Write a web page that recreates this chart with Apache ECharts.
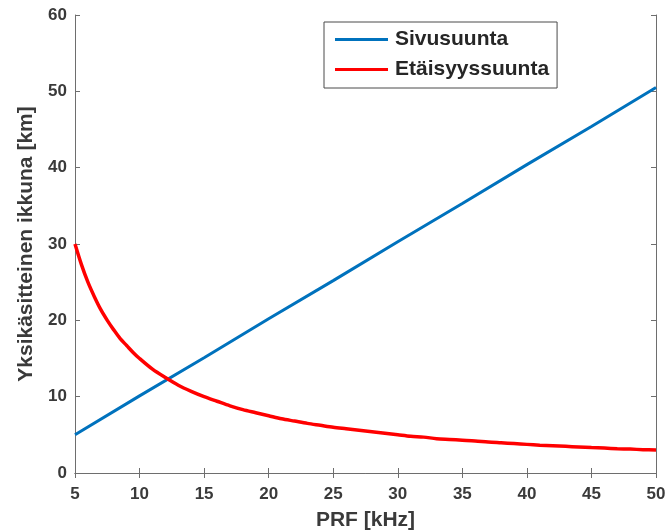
<!DOCTYPE html>
<html>
<head>
<meta charset="utf-8">
<script src="https://cdn.jsdelivr.net/npm/echarts@6/dist/echarts.min.js"></script>
<style>
  html, body { margin: 0; padding: 0; background: #fff; }
  #chart { width: 671px; height: 532px; }
</style>
</head>
<body>
<div id="chart"></div>
<script>
// PRF [kHz]
var prfBlue = [5, 10, 15, 20, 25, 30, 35, 40, 45, 50];
var sivusuunta = [5.0, 10.1, 15.1, 20.2, 25.2, 30.3, 35.3, 40.4, 45.4, 50.5];

var prfRed = [5, 5.5, 6, 6.5, 7, 7.5, 8, 8.5, 9, 9.5, 10, 11, 12, 13, 14, 15, 16, 17, 18, 19,
    20, 21, 22, 23, 24, 25, 26, 27, 28, 29, 30, 31, 32, 33, 34, 35, 36, 37, 38, 39,
    40, 41, 42, 43, 44, 45, 46, 47, 48, 49, 50];
var etaisyyssuunta = [30.0, 27.3, 25.0, 23.1, 21.4, 20.0, 18.75, 17.6, 16.7, 15.8, 15.0, 13.6, 12.5, 11.5, 10.7, 10.0, 9.4, 8.8, 8.3, 7.9,
    7.5, 7.1, 6.8, 6.5, 6.25, 6.0, 5.8, 5.6, 5.4, 5.2, 5.0, 4.8, 4.7, 4.5, 4.4, 4.3, 4.2, 4.05, 3.95, 3.85,
    3.75, 3.65, 3.57, 3.49, 3.41, 3.33, 3.26, 3.19, 3.13, 3.06, 3.0];

var xTicks = [5, 50, 5];   // min, max, interval
var yTicks = [0, 60, 10];

var zip = function (xs, ys) {
    return xs.map(function (x, i) { return [x, ys[i]]; });
};

var axisColor = '#6e6e6e';
var labelStyle = { color: '#3a3a3a', fontSize: 17, fontWeight: 'bold', fontFamily: 'Liberation Sans' };
var nameStyle = { color: '#3a3a3a', fontSize: 21, fontWeight: 'bold', fontFamily: 'Liberation Sans' };

var chart = echarts.init(document.getElementById('chart'));
chart.setOption({
    animation: false,
    backgroundColor: '#fff',
    grid: { left: 75, right: 15, top: 15, bottom: 59, containLabel: false, outerBoundsMode: 'none' },
    legend: {
        orient: 'vertical',
        left: 324,
        top: 22,
        padding: [7, 8, 8, 11],
        itemGap: 9,
        itemWidth: 53,
        itemHeight: 3,
        icon: 'rect',
        borderColor: '#4a4a4a',
        borderWidth: 1,
        backgroundColor: '#fff',
        textStyle: { color: '#262626', fontSize: 21, fontWeight: 'bold', fontFamily: 'Liberation Sans', padding: [0, 0, 0, 2] },
        data: ['Sivusuunta', 'Etäisyyssuunta']
    },
    xAxis: [{
        type: 'value',
        min: xTicks[0], max: xTicks[1], interval: xTicks[2],
        name: 'PRF [kHz]',
        nameLocation: 'middle',
        nameGap: 37,
        nameTextStyle: nameStyle,
        axisLine: { lineStyle: { color: axisColor, width: 1 } },
        axisTick: { inside: true, length: 5, lineStyle: { color: axisColor } },
        axisLabel: Object.assign({ margin: 13 }, labelStyle),
        splitLine: { show: false }
    }, {
        type: 'value', position: 'top',
        min: xTicks[0], max: xTicks[1], interval: xTicks[2],
        axisLine: { show: true, lineStyle: { color: axisColor, width: 1 } },
        axisTick: { inside: true, length: 5, lineStyle: { color: axisColor } },
        axisLabel: { show: false },
        splitLine: { show: false }
    }],
    yAxis: [{
        type: 'value',
        min: yTicks[0], max: yTicks[1], interval: yTicks[2],
        name: 'Yksikäsitteinen ikkuna [km]',
        nameLocation: 'middle',
        nameGap: 33,
        nameTextStyle: nameStyle,
        axisLine: { show: true, lineStyle: { color: axisColor, width: 1 } },
        axisTick: { show: true, inside: true, length: 5, lineStyle: { color: axisColor } },
        axisLabel: Object.assign({ margin: 8 }, labelStyle),
        splitLine: { show: false }
    }, {
        type: 'value', position: 'right',
        min: yTicks[0], max: yTicks[1], interval: yTicks[2],
        axisLine: { show: true, lineStyle: { color: axisColor, width: 1 } },
        axisTick: { show: true, inside: true, length: 5, lineStyle: { color: axisColor } },
        axisLabel: { show: false },
        splitLine: { show: false }
    }],
    series: [{
        name: 'Sivusuunta',
        type: 'line',
        showSymbol: false,
        color: '#0072BD',
        lineStyle: { width: 3, color: '#0072BD' },
        data: zip(prfBlue, sivusuunta)
    }, {
        name: 'Etäisyyssuunta',
        type: 'line',
        showSymbol: false,
        smooth: 0.3,
        color: '#FF0000',
        lineStyle: { width: 3.5, color: '#FF0000' },
        data: zip(prfRed, etaisyyssuunta)
    }]
});
</script>
</body>
</html>
